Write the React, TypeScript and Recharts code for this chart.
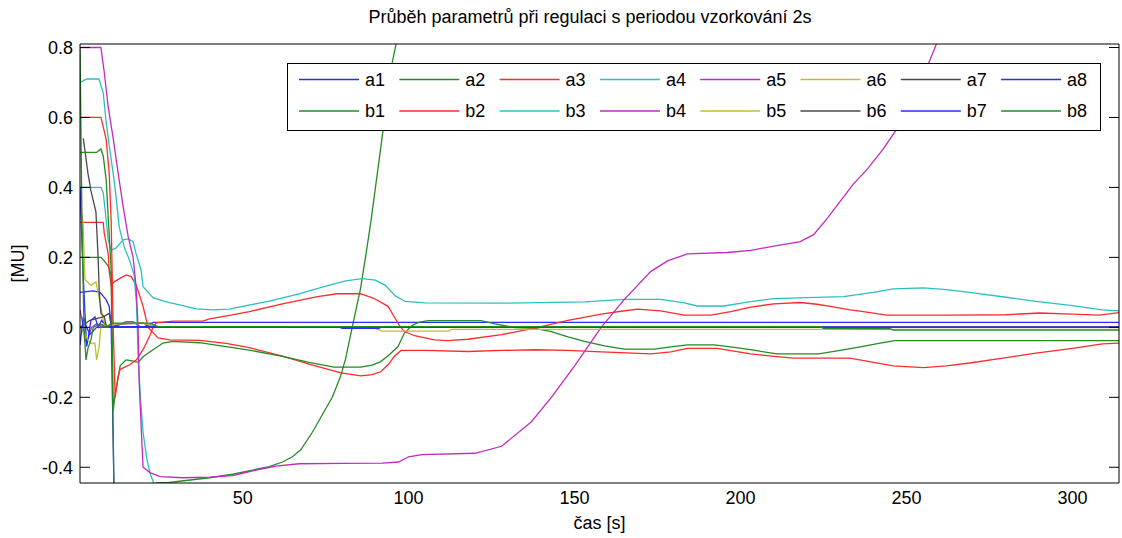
import { LineChart, Line, XAxis, YAxis } from "recharts";

type Pt = [number, number];

// parameter traces, [time s, value MU]
const a1: Pt[] = [[1, 0.1], [5, 0.104], [7, 0.1], [8.8, 0.08], [9.8, 0.06], [10.4, 0.0], [11.2, -0.44], [11.5, -0.55]];
const a2: Pt[] = [
  [1, 0.2], [7.3, 0.2], [8.3, 0.19], [9.5, 0.175], [10.4, 0.15], [11.2, -0.45], [11.6, -0.6], [20, -0.55],
  [24, -0.445], [28, -0.443], [31, -0.44], [40, -0.43], [47, -0.42], [53, -0.408], [58, -0.398], [62, -0.385],
  [65, -0.37], [67.5, -0.35], [71, -0.3], [74, -0.25], [77, -0.2], [79.5, -0.14], [81, -0.09], [83, 0.0],
  [85.5, 0.11], [87, 0.2], [88.6, 0.3], [91.7, 0.52], [94.7, 0.74], [96.2, 0.81], [98, 0.92],
];
const a3: Pt[] = [
  [1, 0.3], [8, 0.3], [8.3, 0.27], [9.5, 0.21], [9.8, 0.16], [10.4, 0.12], [11.3, 0.13], [13, 0.14], [14.9, 0.15],
  [16.4, 0.145], [18, 0.12], [20, 0.06], [21.5, 0.0], [23, -0.015], [24.5, -0.03], [28, -0.036], [37, -0.037],
  [45, -0.046], [52, -0.058], [62, -0.082], [70, -0.105], [79.6, -0.13], [85.6, -0.139], [89, -0.135],
  [91.6, -0.127], [94, -0.105], [95.6, -0.084], [97.7, -0.066], [105, -0.066], [117.8, -0.069], [128, -0.066],
  [138, -0.064], [148, -0.066], [158, -0.07], [173, -0.076], [179, -0.07], [184, -0.06], [193, -0.06],
  [198, -0.068], [203, -0.076], [210, -0.083], [216, -0.088], [233, -0.088], [240, -0.1], [246, -0.11],
  [255, -0.115], [262, -0.11], [269, -0.102], [279, -0.088], [289, -0.074], [300, -0.06], [309, -0.047], [314, -0.045],
];
const a4: Pt[] = [
  [1, 0.4], [7.3, 0.4], [8, 0.385], [8.9, 0.306], [9.5, 0.25], [10.4, 0.22], [11.9, 0.227], [14, 0.25],
  [15.5, 0.253], [17, 0.245], [17.9, 0.21], [19.4, 0.164], [20, 0.116], [23, 0.085], [27, 0.073], [31, 0.064],
  [36, 0.053], [41, 0.05], [46, 0.052], [50, 0.06], [58, 0.075], [67, 0.096], [75, 0.118], [81, 0.133],
  [86, 0.139], [90, 0.135], [93, 0.12], [96, 0.09], [99, 0.074], [105, 0.07], [128, 0.069], [153, 0.073],
  [165, 0.08], [176, 0.08], [183, 0.07], [187, 0.061], [195, 0.061], [202, 0.072], [210, 0.082], [220, 0.085],
  [231, 0.088], [240, 0.1], [246, 0.11], [255, 0.113], [262, 0.108], [269, 0.1], [280, 0.086], [289, 0.074],
  [300, 0.062], [309, 0.05], [314, 0.047],
];
const a5: Pt[] = [[1, 0.05], [2, 0.0], [2.5, -0.04], [3.5, -0.03], [4.5, 0.0], [6, 0.01], [8, 0.0], [12, 0.004], [14.9, 0.016], [17, 0.016], [19, 0.002], [314, 0.002]];
const a6: Pt[] = [[1, 0.36], [1.9, 0.3], [2.5, 0.136], [4.3, 0.12], [5.8, 0.13], [6.7, 0.088], [7.3, 0.06], [8, 0.02], [9, 0.005], [12, 0.01], [20, 0.012], [24, 0.002], [314, 0.002]];
const a7: Pt[] = [[2, 0.54], [3.4, 0.44], [4.3, 0.39], [5.8, 0.33], [6.2, 0.25], [6.5, 0.19], [6.8, 0.1], [7.3, 0.04], [8.3, 0.03], [9, 0.0], [14, 0.01], [20, 0.012], [24, 0.0], [314, 0.0]];
const a8: Pt[] = [[1, 0.4], [1.9, 0.16], [2.5, 0.04], [3, -0.055], [3.5, -0.03], [4.3, 0.02], [5.5, 0.03], [6.5, 0.0], [7.5, 0.02], [9, 0.0], [12, 0.0], [20, 0.0], [23, 0.014], [314, 0.014]];

const b1: Pt[] = [
  [1, 0.5], [6, 0.5], [7.3, 0.51], [8, 0.49], [8.9, 0.42], [10.4, 0.16], [11, -0.24], [11.6, -0.19], [13.1, -0.11],
  [14.9, -0.093], [16.4, -0.095], [18.5, -0.1], [20, -0.084], [23, -0.064], [26, -0.045], [29, -0.04], [37, -0.044],
  [45, -0.055], [52, -0.065], [62, -0.083], [70, -0.1], [77.5, -0.114], [85.5, -0.114], [89, -0.108], [91.6, -0.098],
  [94, -0.08], [96.8, -0.055], [98.7, -0.017], [101, 0.005], [103, 0.014], [105.8, 0.019], [121.8, 0.019],
  [126, 0.01], [132, -0.001], [138, -0.003], [143, -0.012], [148, -0.027], [153, -0.04], [159, -0.053],
  [165, -0.062], [174, -0.062], [179, -0.056], [184, -0.05], [192, -0.05], [197, -0.056], [203, -0.064],
  [211, -0.076], [223.5, -0.076], [230, -0.066], [236.5, -0.055], [242, -0.045], [246.5, -0.038], [314, -0.038],
];
const b2: Pt[] = [
  [1, 0.6], [7.3, 0.6], [8, 0.573], [8.9, 0.536], [9.8, 0.44], [10.4, 0.3], [11, 0.0], [11.6, -0.2], [12.5, -0.14],
  [13.1, -0.12], [16, -0.107], [18, -0.093], [20, -0.064], [22, -0.025], [23, 0.0], [24, 0.013], [29, 0.018],
  [38, 0.018], [40, 0.024], [46, 0.034], [52, 0.045], [62, 0.067], [72.5, 0.088], [78.5, 0.096], [85.5, 0.096],
  [89.5, 0.083], [93.8, 0.06], [95.6, 0.031], [97.1, 0.007], [98.7, -0.012], [101.8, -0.024], [107.8, -0.036],
  [111.9, -0.038], [117.8, -0.034], [128, -0.021], [138, -0.002], [148, 0.02], [158, 0.038], [164, 0.046],
  [169, 0.052], [176, 0.047], [183, 0.035], [191, 0.035], [197, 0.045], [203, 0.058], [210, 0.067], [218, 0.071],
  [223, 0.066], [227, 0.06], [233, 0.05], [237, 0.045], [244, 0.035], [264, 0.035], [280, 0.036], [290, 0.041],
  [300, 0.038], [308, 0.035], [314, 0.042],
];
const b3: Pt[] = [
  [1, 0.7], [3, 0.71], [6.7, 0.71], [8, 0.67], [8.9, 0.585], [9.8, 0.52], [11, 0.44], [11.9, 0.37], [12.8, 0.287],
  [14.3, 0.23], [16, 0.19], [17.3, 0.15], [18, 0.07], [18.6, -0.1], [19.2, -0.2], [20, -0.3], [21.2, -0.38],
  [22.2, -0.42], [23.2, -0.445], [25, -0.5],
];
const b4: Pt[] = [
  [1, 0.8], [7.3, 0.8], [8.3, 0.73], [9.5, 0.63], [11, 0.54], [12.5, 0.44], [14, 0.345], [15.5, 0.26], [17, 0.2],
  [17.9, 0.116], [18.5, 0.0], [18.8, -0.15], [19.5, -0.3], [20, -0.4], [22.2, -0.416], [25.2, -0.427], [32, -0.43],
  [40, -0.428], [47, -0.424], [53, -0.41], [60, -0.397], [67, -0.39], [80, -0.389], [92, -0.388], [97, -0.385],
  [100, -0.37], [104, -0.364], [120, -0.36], [128, -0.34], [137, -0.27], [143, -0.2], [150, -0.11], [158, 0.0],
  [165, 0.08], [173, 0.16], [178, 0.19], [184, 0.21], [196, 0.214], [203, 0.22], [210, 0.232], [218, 0.245],
  [222, 0.265], [226, 0.31], [230, 0.36], [234, 0.41], [238, 0.45], [243, 0.51], [248, 0.58], [252, 0.65],
  [256, 0.74], [259, 0.81], [262, 0.88],
];
const b5: Pt[] = [[1, 0.0], [2.5, -0.02], [4, -0.045], [5.5, -0.045], [6, -0.093], [6.7, -0.06], [7.3, 0.0], [8, 0.01], [9, 0.0], [12, 0.01], [20, 0.012], [24, 0.001], [89, 0.001], [90.7, -0.006], [92, -0.011], [112, -0.011], [113, -0.006], [314, -0.006]];
const b6: Pt[] = [[1, 0.0], [4, 0.02], [8, 0.03], [9.8, 0.04], [10.5, 0.0], [314, 0.0]];
const b7: Pt[] = [[1, -0.05], [2, 0.03], [3, 0.0], [4, -0.02], [6, 0.0], [10, 0.002], [79, 0.001], [80, -0.003], [91, -0.003], [92, 0.001], [314, 0.001]];
const b8: Pt[] = [[1, 0.8], [1.6, 0.3], [2.2, 0.0], [2.8, -0.093], [3.4, -0.06], [4.3, -0.036], [5, 0.0], [7, 0.01], [9, 0.0], [10.5, 0.012], [22, 0.012], [24.5, 0.002], [224, 0.002], [225, -0.003], [245, -0.004], [246, -0.008], [314, -0.008]];

const X_TICKS = [50, 100, 150, 200, 250, 300];
const Y_TICKS = [-0.4, -0.2, 0, 0.2, 0.4, 0.6, 0.8];
const X_DOMAIN: [number, number] = [1, 314];
const Y_DOMAIN: [number, number] = [-0.445, 0.81];

// MATLAB-like line colours
const BLUE = "#2b2bff";
const GREEN = "#238c23";
const RED = "#ff2b2b";
const CYAN = "#2bbfbf";
const MAGENTA = "#bf2bbf";
const YELLOW = "#bfbf2b";
const GRAY = "#4a4a4a";

const SERIES = [
  { name: "a1", color: BLUE, pts: a1 },
  { name: "a2", color: GREEN, pts: a2 },
  { name: "a3", color: RED, pts: a3 },
  { name: "a4", color: CYAN, pts: a4 },
  { name: "a5", color: MAGENTA, pts: a5 },
  { name: "a6", color: YELLOW, pts: a6 },
  { name: "a7", color: GRAY, pts: a7 },
  { name: "a8", color: BLUE, pts: a8 },
  { name: "b1", color: GREEN, pts: b1 },
  { name: "b2", color: RED, pts: b2 },
  { name: "b3", color: CYAN, pts: b3 },
  { name: "b4", color: MAGENTA, pts: b4 },
  { name: "b5", color: YELLOW, pts: b5 },
  { name: "b6", color: GRAY, pts: b6 },
  { name: "b7", color: BLUE, pts: b7 },
  { name: "b8", color: GREEN, pts: b8 },
];

const FONT = '"Liberation Sans", Arial, Helvetica, sans-serif';
const INK = "#000";

const toRows = (pts: Pt[]) => pts.map(([t, v]) => ({ t, v }));

// tick marks only, no text (used by the inner mirrored axes)
const NoLabel = () => <g />;

// boxed two-row legend, drawn over the plot like MATLAB's
function BoxLegend() {
  const colW = 100.3;
  return (
    <svg
      width={815}
      height={69}
      style={{ position: "absolute", left: 287, top: 63, fontFamily: FONT }}
    >
      <rect x={0.5} y={0.5} width={813} height={67} fill="#fff" stroke={INK} />
      {SERIES.map((s, i) => {
        const col = i % 8;
        const y = i < 8 ? 16.5 : 48;
        const x = 12 + col * colW;
        return (
          <g key={s.name}>
            <line x1={x} x2={x + 60} y1={y} y2={y} stroke={s.color} strokeWidth={1.3} />
            <text x={x + 66} y={y} dominantBaseline="central" fontSize={18} fill={INK}>
              {s.name}
            </text>
          </g>
        );
      })}
    </svg>
  );
}

export default function App() {
  return (
    <div
      style={{
        position: "absolute",
        left: 0,
        top: 0,
        width: 1122,
        height: 538,
        background: "#fff",
        fontFamily: FONT,
      }}
    >
      <div
        style={{
          position: "absolute",
          left: 290,
          top: 5,
          width: 600,
          textAlign: "center",
          fontSize: 18,
          lineHeight: "24px",
          color: INK,
        }}
      >
        Průběh parametrů při regulaci s periodou vzorkování 2s
      </div>

      <LineChart width={1122} height={538} margin={{ top: 44, right: 3, bottom: 0, left: 0 }}>
        {/* labelled axes */}
        <XAxis
          xAxisId="x"
          dataKey="t"
          type="number"
          domain={X_DOMAIN}
          allowDataOverflow
          ticks={X_TICKS}
          height={55}
          tickLine={false}
          tickSize={4}
          tickMargin={4}
          axisLine={{ stroke: INK }}
          tick={{ fill: INK, fontSize: 18, fontFamily: FONT }}
          label={{ value: "čas [s]", position: "insideBottom", offset: 9, fill: INK, fontSize: 18 }}
        />
        <YAxis
          yAxisId="y"
          type="number"
          domain={Y_DOMAIN}
          allowDataOverflow
          ticks={Y_TICKS}
          width={80}
          tickLine={false}
          tickSize={4}
          tickMargin={3}
          axisLine={{ stroke: INK }}
          tick={{ fill: INK, fontSize: 18, fontFamily: FONT }}
          label={{
            value: "[MU]",
            angle: -90,
            position: "insideLeft",
            offset: 18,
            fill: INK,
            fontSize: 18,
            style: { textAnchor: "middle" },
          }}
        />
        {/* inward tick marks on all four sides, closing the box */}
        <XAxis
          xAxisId="xb"
          type="number"
          domain={X_DOMAIN}
          allowDataOverflow
          ticks={X_TICKS}
          orientation="bottom"
          mirror
          axisLine={false}
          tick={NoLabel}
          tickSize={10}
          tickLine={{ stroke: INK }}
        />
        <XAxis
          xAxisId="xt"
          type="number"
          domain={X_DOMAIN}
          allowDataOverflow
          ticks={X_TICKS}
          orientation="top"
          mirror
          axisLine={{ stroke: INK }}
          tick={NoLabel}
          tickSize={10}
          tickLine={{ stroke: INK }}
        />
        <YAxis
          yAxisId="yl"
          type="number"
          domain={Y_DOMAIN}
          allowDataOverflow
          ticks={Y_TICKS}
          mirror
          axisLine={false}
          tick={NoLabel}
          tickSize={10}
          tickLine={{ stroke: INK }}
        />
        <YAxis
          yAxisId="yr"
          type="number"
          domain={Y_DOMAIN}
          allowDataOverflow
          ticks={Y_TICKS}
          orientation="right"
          mirror
          axisLine={{ stroke: INK }}
          tick={NoLabel}
          tickSize={10}
          tickLine={{ stroke: INK }}
        />

        {SERIES.map((s) => (
          <Line
            key={s.name}
            name={s.name}
            xAxisId="x"
            yAxisId="y"
            data={toRows(s.pts)}
            dataKey="v"
            type="linear"
            stroke={s.color}
            strokeWidth={1.3}
            dot={false}
            activeDot={false}
            isAnimationActive={false}
          />
        ))}
      </LineChart>

      <BoxLegend />
    </div>
  );
}
